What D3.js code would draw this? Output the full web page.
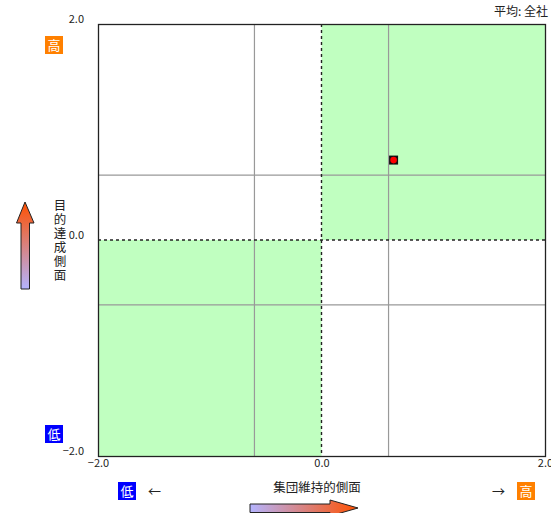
<!DOCTYPE html>
<html><head><meta charset="utf-8">
<script src="https://cdn.jsdelivr.net/npm/d3@7"></script>
<style>body{margin:0;background:#fff;} text{font-family:"Noto Sans CJK JP","DejaVu Sans",sans-serif;}</style>
</head><body>
<svg id="c" width="551" height="513"></svg>
<script>
const xDomain = [-2, 2];
const yDomain = [-2, 2];
const tickValues = [-2, 0, 2];
const gridValues = [-0.6, 0.6];
const points = [{name: "全社", x: 0.645, y: 0.74}];
const titleText = "平均: 全社";
const xAxisLabel = "集団維持的側面";
const yAxisLabel = "目的達成側面";
const highLabel = "高", lowLabel = "低";

const svg = d3.select("#c");
const L = 98, R = 545, T = 24, B = 456;
const x = d3.scaleLinear().domain(xDomain).range([L, R]);
const y = d3.scaleLinear().domain(yDomain).range([B, T]);

const defs = svg.append("defs");
const gv = defs.append("linearGradient").attr("id","gv").attr("x1",0).attr("y1",1).attr("x2",0).attr("y2",0);
gv.append("stop").attr("offset","0%").attr("stop-color","#b4b4ff");
gv.append("stop").attr("offset","100%").attr("stop-color","#ff5000");
const gh = defs.append("linearGradient").attr("id","gh").attr("x1",0).attr("y1",0).attr("x2",1).attr("y2",0);
gh.append("stop").attr("offset","0%").attr("stop-color","#b4b4ff");
gh.append("stop").attr("offset","100%").attr("stop-color","#ff5000");

// background
svg.append("rect").attr("x",L).attr("y",T).attr("width",R-L).attr("height",B-T).attr("fill","#fff");
// green quadrants
svg.append("rect").attr("x",x(0)).attr("y",y(2)).attr("width",x(2)-x(0)).attr("height",y(0)-y(2)).attr("fill","#c0ffc0");
svg.append("rect").attr("x",x(-2)).attr("y",y(0)).attr("width",x(0)-x(-2)).attr("height",y(-2)-y(0)).attr("fill","#c0ffc0");

// grid lines
gridValues.forEach(v => {
  svg.append("line").attr("x1",x(v)).attr("x2",x(v)).attr("y1",T).attr("y2",B).attr("stroke","#999").attr("stroke-width",1.2);
  svg.append("line").attr("x1",L).attr("x2",R).attr("y1",y(v)).attr("y2",y(v)).attr("stroke","#999").attr("stroke-width",1.2);
});
// zero dashed
svg.append("line").attr("x1",x(0)).attr("x2",x(0)).attr("y1",T).attr("y2",B).attr("stroke","#222").attr("stroke-width",1.4).attr("stroke-dasharray","3,3");
svg.append("line").attr("x1",L).attr("x2",R).attr("y1",y(0)).attr("y2",y(0)).attr("stroke","#222").attr("stroke-width",1.4).attr("stroke-dasharray","3,3");

// border
svg.append("rect").attr("x",L+0.5).attr("y",T+0.5).attr("width",R-L).attr("height",B-T).attr("fill","none").attr("stroke","#222").attr("stroke-width",1.3);

// axes tick labels
const yAxis = d3.axisLeft(y).tickValues(tickValues).tickSize(0).tickPadding(14).tickFormat(d3.format(".1f"));
const ga = svg.append("g").attr("transform",`translate(${L},0)`).call(yAxis);
ga.select(".domain").remove();
ga.selectAll("text").attr("font-size",11).attr("fill","#222").attr("dy","-0.1em");
const xAxis = d3.axisBottom(x).tickValues(tickValues).tickSize(0).tickPadding(3).tickFormat(d3.format(".1f"));
const gb = svg.append("g").attr("transform",`translate(0,${B})`).call(xAxis);
gb.select(".domain").remove();
gb.selectAll("text").attr("font-size",11).attr("fill","#222");

// point
svg.selectAll(".pt").data(points).enter().append("rect")
  .attr("x",d=>x(d.x)-4.5).attr("y",d=>y(d.y)-4.5).attr("width",9).attr("height",9).attr("fill","#111");
svg.selectAll(".ptc").data(points).enter().append("circle")
  .attr("cx",d=>x(d.x)).attr("cy",d=>y(d.y)).attr("r",3.3).attr("fill","#f00");

// title
svg.append("text").attr("x",548).attr("y",16).attr("text-anchor","end").attr("font-size",12).attr("fill","#222").text(titleText);

// badges
function badge(cx, cy, txt, col){
  svg.append("rect").attr("x",cx-9).attr("y",cy-9).attr("width",18).attr("height",18).attr("fill",col);
  svg.append("text").attr("x",cx).attr("y",cy+4.5).attr("text-anchor","middle").attr("font-size",13).attr("fill","#fff").text(txt);
}
badge(54, 45, highLabel, "#ff8000");
badge(54, 434, lowLabel, "#0000ff");
badge(127, 491, lowLabel, "#0000ff");
badge(526, 491, highLabel, "#ff8000");
svg.append("text").attr("x",148).attr("y",496).attr("font-size",13).attr("fill","#222").text("←");
svg.append("text").attr("x",492).attr("y",496).attr("font-size",13).attr("fill","#222").text("→");

// x label
svg.append("text").attr("x",317).attr("y",492).attr("text-anchor","middle").attr("font-size",12.5).attr("fill","#222").text(xAxisLabel);
// y label vertical
svg.append("text").attr("x",60).attr("y",199)
  .attr("writing-mode","vertical-rl").style("writing-mode","vertical-rl")
  .attr("font-size",12.5).attr("letter-spacing",1.5).attr("fill","#222").text(yAxisLabel);

// vertical arrow
svg.append("path").attr("d","M25,202 L34,223 L29.5,223 L29.5,289 L21,289 L21,223 L16.5,223 Z")
  .attr("fill","url(#gv)").attr("stroke","#222").attr("stroke-width",1);
// horizontal arrow
svg.append("path").attr("d","M250,504 L330,504 L330,500 L358,508 L330,516 L330,512.5 L250,512.5 Z")
  .attr("fill","url(#gh)").attr("stroke","#222").attr("stroke-width",1);
</script>
</body></html>
